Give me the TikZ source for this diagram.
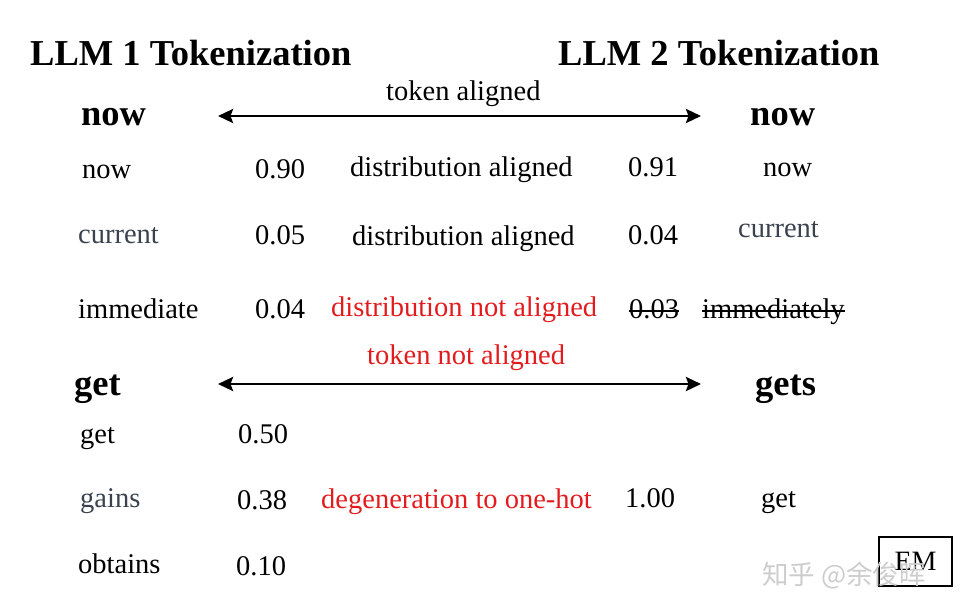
\documentclass[tikz,border=0pt]{standalone}
\usepackage{fontspec}
\setmainfont{Liberation Serif}
\newfontfamily\cjkfont{Noto Sans CJK SC}
\usetikzlibrary{arrows.meta}
\definecolor{tokred}{RGB}{226,28,30}
\definecolor{slate}{RGB}{58,66,80}
\definecolor{wmark}{RGB}{205,205,205}
\tikzset{
  hdr/.style={anchor=base west, inner sep=0pt, font=\fontsize{36.5}{40}\selectfont\bfseries},
  txt/.style={anchor=base west, inner sep=0pt, font=\fontsize{28.5}{32}\selectfont},
  redtxt/.style={txt, text=tokred},
  slatetxt/.style={txt, text=slate},
  biarrow/.style={line width=2.8pt, {Stealth[length=15pt,width=14pt,inset=2.5pt]}-{Stealth[length=15pt,width=14pt,inset=2.5pt]}},
  strike/.style={line width=1.6pt}
}
\begin{document}
\begin{tikzpicture}[x=1pt,y=-1pt]
\useasboundingbox (0,0) rectangle (966,614);
% titles
\node[hdr] (t1) at (30,65) {LLM 1 Tokenization};
\node[hdr] (t2) at (558,65) {LLM 2 Tokenization};
% upper part
\node[txt] (ta) at (386,100) {token aligned};
\coordinate (a1l) at (218,116);
\coordinate (a1r) at (701,116);
\draw[biarrow] (a1l) -- (a1r);
\node[hdr] (nowL) at (81,125) {now};
\node[hdr] (nowR) at (750,125) {now};

\node[txt] (w11) at (82,178) {now};
\node[txt] (p11) at (255,178) {0.90};
\node[txt] (d1) at (350,176) {distribution aligned};
\node[txt] (p12) at (628,176) {0.91};
\node[txt] (w12) at (763,176) {now};

\node[slatetxt] (w21) at (78,243) {current};
\node[txt] (p21) at (255,244) {0.05};
\node[txt] (d2) at (352,245) {distribution aligned};
\node[txt] (p22) at (628,244) {0.04};
\node[slatetxt] (w22) at (738,237) {current};

\node[txt] (w31) at (78,318) {immediate};
\node[txt] (p31) at (255,318) {0.04};
\node[redtxt] (d3) at (331,316) {distribution not aligned};
\node[txt] (p32) at (629,318) {0.03};
\node[txt] (w32) at (702,318) {immediately};
\draw[strike] ([yshift=7pt]p32.base west) -- ([yshift=7pt]p32.base east);
\draw[strike] ([yshift=7pt]w32.base west) -- ([yshift=7pt]w32.base east);

% lower part
\node[redtxt] (tna) at (367,364) {token not aligned};
\coordinate (a2l) at (218,384);
\coordinate (a2r) at (701,384);
\draw[biarrow] (a2l) -- (a2r);
\node[hdr] (getL) at (74,395) {get};
\node[hdr] (getsR) at (755,395) {gets};

\node[txt] (g11) at (80,443) {get};
\node[txt] (q11) at (238,443) {0.50};

\node[slatetxt] (g21) at (80,507) {gains};
\node[txt] (q21) at (237,509) {0.38};
\node[redtxt] (dg) at (321,508) {degeneration to one-hot};
\node[txt] (q22) at (625,507) {1.00};
\node[txt] (g22) at (761,507) {get};

\node[txt] (g31) at (78,573) {obtains};
\node[txt] (q31) at (236,575) {0.10};

% EM box
\node[draw, line width=2pt, minimum width=73pt, minimum height=49pt, inner sep=0pt,
      font=\fontsize{28}{30}\selectfont] (em) at (915.5,561.5) {EM};
% watermark
\node[anchor=base west, inner sep=0pt, text=wmark, font=\cjkfont\fontsize{26.5}{28}\selectfont] (wm) at (762,584) {知乎 @余俊晖};
\end{tikzpicture}
\end{document}
